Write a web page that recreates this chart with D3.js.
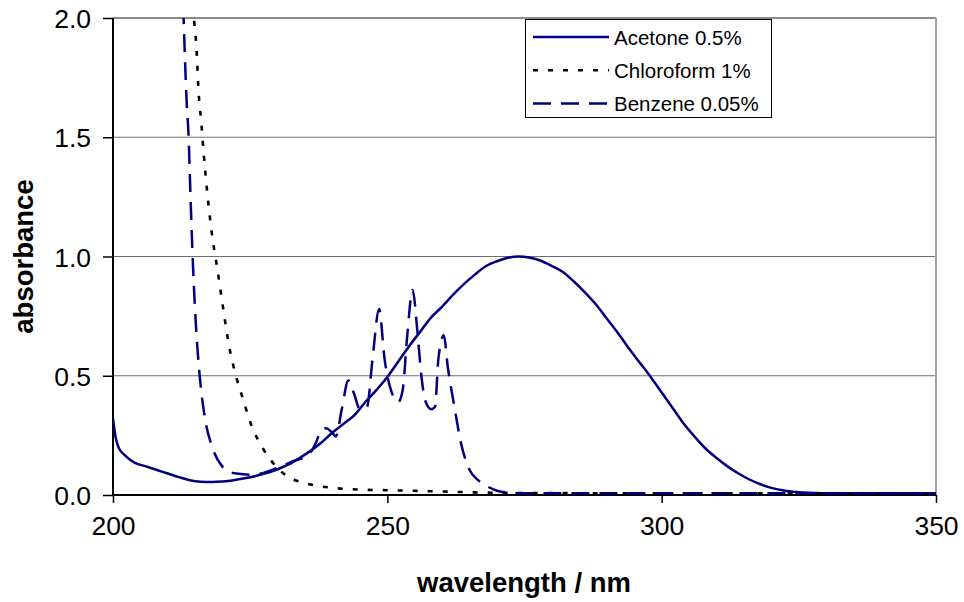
<!DOCTYPE html>
<html><head><meta charset="utf-8">
<script src="https://cdn.jsdelivr.net/npm/d3@7"></script>
<style>
html,body{margin:0;padding:0;background:#fff;}
text{font-family:"Liberation Sans",Arial,sans-serif;}
</style></head>
<body><svg id="c" width="964" height="602"></svg>
<script>
// ---- data ----
const xTicks = [200, 250, 300, 350];
const yTicks = [0.0, 0.5, 1.0, 1.5, 2.0];
const seriesNames = ["Acetone 0.5%", "Chloroform 1%", "Benzene 0.05%"];

const acetoneWl = [200,200.5,201,202,203,204,206,208,210,212,214,216,218,220,222,224,226,228,230,232,234,236,238,240,242,244,246,248,250,252,254,256,258,260,262,264,266,268,270,272,274,276,278,280,282,284,286,288,290,292,294,296,298,300,302,304,306,308,310,312,314,316,318,320,322,324,326,328,330,335,340,345,350];
const acetoneAbs = [0.32,0.24,0.20,0.17,0.15,0.135,0.12,0.105,0.09,0.075,0.062,0.056,0.055,0.057,0.062,0.07,0.08,0.092,0.108,0.128,0.155,0.185,0.22,0.262,0.298,0.335,0.39,0.44,0.495,0.56,0.625,0.685,0.745,0.79,0.84,0.885,0.925,0.96,0.98,0.995,1.0,0.995,0.982,0.96,0.935,0.895,0.85,0.8,0.74,0.68,0.615,0.555,0.495,0.43,0.365,0.3,0.245,0.195,0.155,0.12,0.09,0.065,0.045,0.03,0.02,0.014,0.01,0.008,0.007,0.007,0.007,0.007,0.007];

const chloroWl = [214.5,214.9,215.2,215.6,216.1,216.5,217,218,219,219.9,221.2,222.4,223.6,225.1,227.2,229.7,232,235,240,246,250,258,268,280,300,325,350];
const chloroAbs = [2.05,1.96,1.88,1.69,1.56,1.44,1.31,1.10,0.95,0.81,0.62,0.50,0.41,0.30,0.20,0.12,0.075,0.05,0.03,0.022,0.02,0.016,0.01,0.008,0.007,0.007,0.007];

const benzeneWl = [212.8,213.4,213.8,214.1,214.6,215.2,215.8,216.7,218.1,219.9,221,222.5,225.4,227,229,232.6,235.7,237,237.8,238.8,240,240.6,241.7,242.9,244,245,246.3,247.3,248.5,249.5,250.8,252,252.8,253.6,254.6,255.5,256.2,257,258,258.7,259.3,260.3,261,262.3,263.4,265,266.5,268.3,270,272,275,300,325,350];
const benzeneAbs = [2.05,1.66,1.49,1.27,0.95,0.68,0.50,0.33,0.20,0.12,0.10,0.09,0.085,0.09,0.105,0.14,0.17,0.22,0.265,0.28,0.26,0.245,0.36,0.48,0.42,0.36,0.37,0.57,0.78,0.57,0.43,0.39,0.44,0.66,0.86,0.68,0.50,0.39,0.36,0.37,0.57,0.67,0.54,0.36,0.22,0.105,0.063,0.035,0.018,0.01,0.007,0.007,0.007,0.007];

// ---- chart ----
const svg = d3.select("#c");
const L = 113, R = 936, T = 18, B = 495;
const x = d3.scaleLinear().domain([200, 350]).range([L, R]);
const y = d3.scaleLinear().domain([0, 2]).range([B, T]);

svg.append("defs").append("clipPath").attr("id","clip")
  .append("rect").attr("x", L).attr("y", T).attr("width", R - L).attr("height", B - T);

// gridlines
svg.append("g").selectAll("line").data(yTicks.filter(v => v > 0 && v < 2)).join("line")
  .attr("x1", L).attr("x2", R).attr("y1", d => y(d)).attr("y2", d => y(d))
  .attr("stroke", "#6e6e6e").attr("stroke-width", 1.2);
// top & right border
svg.append("line").attr("x1", L).attr("x2", R).attr("y1", y(2)).attr("y2", y(2))
  .attr("stroke", "#8c8c8c").attr("stroke-width", 2);
svg.append("line").attr("x1", R).attr("x2", R).attr("y1", T).attr("y2", B)
  .attr("stroke", "#a0a0a0").attr("stroke-width", 2);

// axes
const yAxis = d3.axisLeft(y).tickValues(yTicks).tickFormat(d3.format(".1f")).tickSize(10).tickPadding(12);
const gy = svg.append("g").attr("transform", `translate(${L},0)`).call(yAxis);
const xAxis = d3.axisBottom(x).tickValues(xTicks).tickFormat(d3.format("d")).tickSize(8).tickPadding(12);
const gx = svg.append("g").attr("transform", `translate(0,${B})`).call(xAxis);
[gx, gy].forEach(g => {
  g.select(".domain").attr("stroke", "#000").attr("stroke-width", 2);
  g.selectAll(".tick line").attr("stroke", "#000").attr("stroke-width", 1.5);
  g.selectAll(".tick text").attr("fill", "#000").style("font-family", "'Liberation Sans', Arial, sans-serif").style("font-size", "26.5px");
});
gx.select(".domain").attr("d", `M${L},0H${R}`);
gy.select(".domain").attr("d", `M0,${B}V${T}`);
gy.selectAll(".tick text").attr("dy", "0.36em");
gx.selectAll(".tick text").attr("dy", "0.76em");

// series
const line = d3.line().x(d => x(d[0])).y(d => y(d[1])).curveMonotoneX;
const zip = (a, b) => a.map((v, i) => [v, b[i]]);
const styles = [
  {data: zip(acetoneWl, acetoneAbs), color: "#000080", w: 2.5, dash: null},
  {data: zip(chloroWl, chloroAbs), color: "#000000", w: 2.6, dash: "5,10"},
  {data: zip(benzeneWl, benzeneAbs), color: "#000080", w: 2.5, dash: "18,10"}
];
const plot = svg.append("g").attr("clip-path", "url(#clip)");
styles.forEach(s => {
  plot.append("path").datum(s.data).attr("d", d3.line().x(d => x(d[0])).y(d => y(d[1])).curve(d3.curveMonotoneX))
    .attr("fill", "none").attr("stroke", s.color).attr("stroke-width", s.w)
    .attr("stroke-dasharray", s.dash).attr("stroke-linejoin", "round");
});

// legend
const lg = svg.append("g");
lg.append("rect").attr("x", 525.5).attr("y", 19.5).attr("width", 246).attr("height", 98)
  .attr("fill", "#fff").attr("stroke", "#000").attr("stroke-width", 1);
seriesNames.forEach((n, i) => {
  const yy = 37 + i * 33.2;
  lg.append("line").attr("x1", 533).attr("x2", 609).attr("y1", yy).attr("y2", yy)
    .attr("stroke", styles[i].color).attr("stroke-width", styles[i].w).attr("stroke-dasharray", styles[i].dash);
  lg.append("text").attr("x", 614).attr("y", yy + 7.5).text(n)
    .style("font-size", "20.5px").attr("fill", "#000");
});

// axis titles
svg.append("text").attr("x", 524).attr("y", 592).attr("text-anchor", "middle")
  .style("font-size", "27.5px").style("font-weight", "bold").text("wavelength / nm");
svg.append("text").attr("transform", "translate(33,256.5) rotate(-90)").attr("text-anchor", "middle")
  .style("font-size", "27.5px").style("font-weight", "bold").text("absorbance");
</script></body></html>
